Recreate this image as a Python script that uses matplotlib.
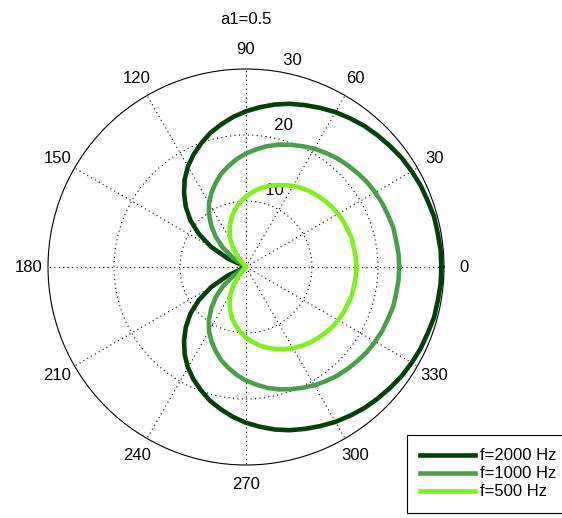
import numpy as np
import matplotlib
matplotlib.use('Agg')
import matplotlib.pyplot as plt

plt.rcParams['font.family'] = ['Liberation Sans', 'DejaVu Sans']

# polar response for a1=0.5, sampled every 5 deg over the upper half
# (the pattern is symmetric, the lower half is mirrored below)
theta_deg = list(range(0, 185, 5))
r_2000 = [29.6, 29.6, 29.5, 29.5, 29.3, 29.2, 29.0, 28.8, 28.5, 28.2,
          27.9, 27.5, 27.1, 26.6, 26.1, 25.6, 25.0, 24.3, 23.6, 22.8,
          21.9, 21.0, 19.9, 18.8, 17.6, 16.2, 14.6, 12.9, 11.0, 8.7,
          6.1, 3.0, 0.0, 0.0, 0.0, 0.0, 0.0]
r_1000 = [23.2, 23.2, 23.1, 23.1, 22.9, 22.8, 22.6, 22.4, 22.1, 21.8,
          21.5, 21.1, 20.7, 20.2, 19.7, 19.2, 18.6, 17.9, 17.2, 16.4,
          15.5, 14.6, 13.5, 12.4, 11.2, 9.8, 8.2, 6.5, 4.6, 2.3,
          0.0, 0.0, 0.0, 0.0, 0.0, 0.0, 0.0]
r_500 = [16.7, 16.7, 16.6, 16.6, 16.4, 16.3, 16.1, 15.9, 15.6, 15.3,
         15.0, 14.6, 14.2, 13.7, 13.2, 12.7, 12.1, 11.4, 10.7, 9.9,
         9.0, 8.1, 7.0, 5.9, 4.7, 3.3, 1.7, 0.0, 0.0, 0.0,
         0.0, 0.0, 0.0, 0.0, 0.0, 0.0, 0.0]

series = [r_2000, r_1000, r_500]
labels = ['f=2000 Hz', 'f=1000 Hz', 'f=500 Hz']
colors = ['#00400a', '#4aa04a', '#80f020']

r_max = 30
r_rings = [10, 20, 30]
angle_ticks = list(range(0, 360, 30))


def mirror(th, r):
    th_full = th + [360 - t for t in th[-2::-1]]
    r_full = r + r[-2::-1]
    return np.radians(th_full), np.array(r_full)


fig = plt.figure(figsize=(5.62, 5.18), dpi=100)
ax = fig.add_axes([48 / 562, 53 / 518, 396 / 562, 396 / 518], projection='polar')

for r, lab, col in zip(series, labels, colors):
    th, rr = mirror(theta_deg, r)
    ax.plot(th, rr, color=col, linewidth=3.3, label=lab, zorder=3)

ax.set_ylim(0, r_max)
ax.set_yticks(r_rings[:-1])
ax.set_yticklabels([])
ax.set_xticks(np.radians(angle_ticks))
ax.set_xticklabels([])
ax.tick_params(length=0)
ax.grid(True, color='black', linestyle=(0, (1, 3)), linewidth=0.8)
ax.spines['polar'].set_linewidth(0.8)
ax.spines['polar'].set_color('black')

# angle labels just outside the outer ring
for a in angle_ticks:
    ax.text(np.radians(a), 1.1 * r_max, str(a), ha='center', va='center',
            fontsize=12, clip_on=False)

# ring labels along the 82 deg direction
for rv in r_rings:
    ax.text(np.radians(82), rv + r_max / 60, '  ' + str(rv), ha='left',
            va='bottom', fontsize=12, zorder=2)

fig.text(246 / 562, 1 - 20 / 518, 'a1=0.5', ha='center', va='center', fontsize=12)

# legend box runs past the right edge of the figure
leg = fig.legend(loc='upper left', mode='expand',
                 bbox_to_anchor=(407 / 562, 1 - 435 / 518, 180 / 562, 0),
                 fontsize=12, frameon=True, fancybox=False, framealpha=1,
                 edgecolor='black', handlelength=3.3, handletextpad=0.3,
                 labelspacing=0.18, borderpad=0.8, borderaxespad=0)
leg.get_frame().set_linewidth(0.8)

fig.savefig('out.png', dpi=100, facecolor='white')
